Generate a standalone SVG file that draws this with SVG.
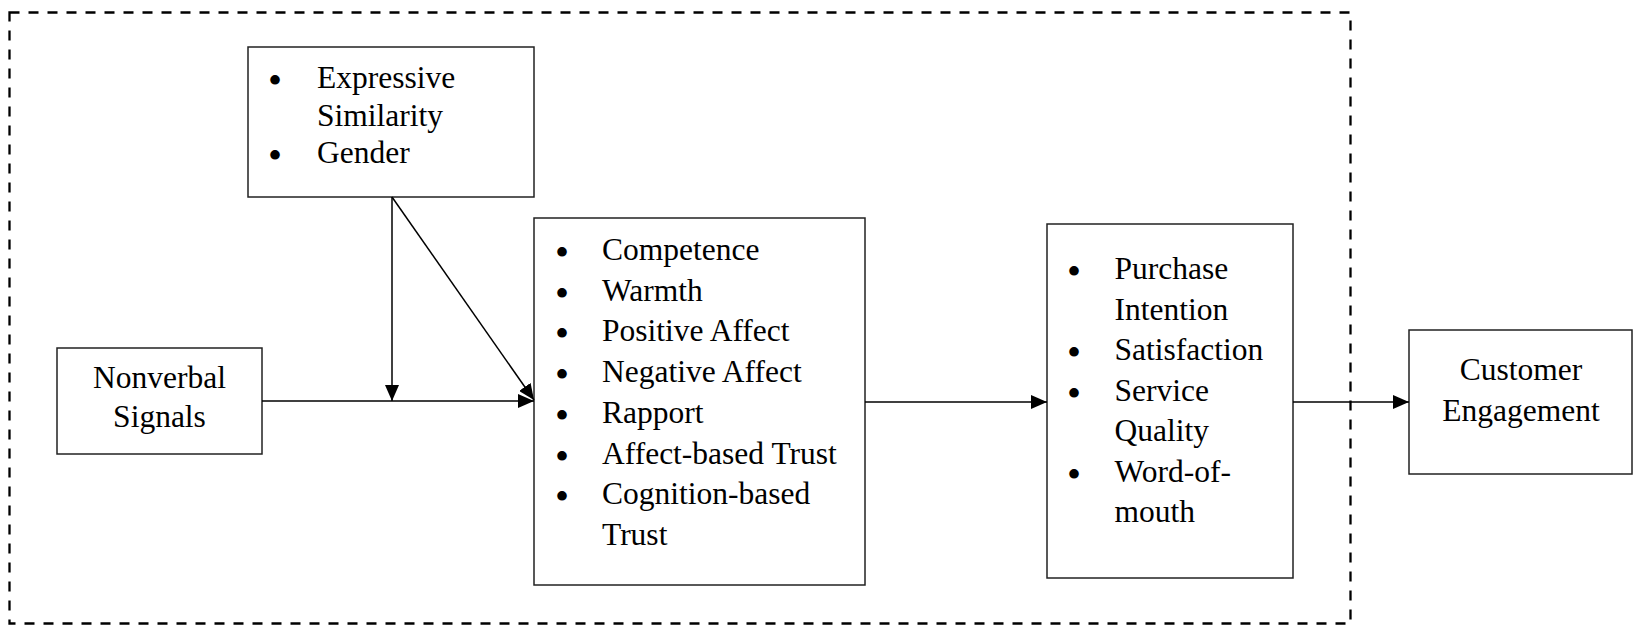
<svg xmlns="http://www.w3.org/2000/svg" width="1633" height="626" viewBox="0 0 1633 626">
<defs>
<marker id="arr" viewBox="0 0 16 14" refX="16" refY="7" markerWidth="16" markerHeight="14" markerUnits="userSpaceOnUse" orient="auto">
<path d="M0,0 L16,7 L0,14 Z" fill="#000"/>
</marker>
</defs>
<style>
.box{fill:#fff;stroke:#222;stroke-width:1.5}
.frame{fill:none;stroke:#000;stroke-width:2.3;stroke-dasharray:10 9}
.t{font-family:"Liberation Serif","Times New Roman",serif;font-size:31.5px;fill:#000}
.c{text-anchor:middle}
.b{font-family:"Liberation Serif","Times New Roman",serif;font-size:40px;fill:#000;text-anchor:middle}
.ln{fill:none;stroke:#000;stroke-width:1.5}
</style>
<rect width="1633" height="626" fill="#fff"/>
<rect class="frame" x="9.5" y="12.5" width="1341" height="611"/>
<g id="moderators">
<rect class="box" x="248" y="47" width="286" height="150"/>
<text class="b" x="275" y="94">•</text>
<text class="t" x="317" y="88">Expressive</text>
<text class="t" x="317" y="125.5">Similarity</text>
<text class="b" x="275" y="169">•</text>
<text class="t" x="317" y="163">Gender</text>
</g>
<g id="nonverbal">
<rect class="box" x="57" y="348" width="205" height="106"/>
<text class="t c" x="159.5" y="388">Nonverbal</text>
<text class="t c" x="159.5" y="427">Signals</text>
</g>
<g id="mediators">
<rect class="box" x="534" y="218" width="331" height="367"/>
<text class="b" x="562" y="266">•</text><text class="t" x="602" y="260">Competence</text>
<text class="b" x="562" y="306.7">•</text><text class="t" x="602" y="300.7">Warmth</text>
<text class="b" x="562" y="347.4">•</text><text class="t" x="602" y="341.4">Positive Affect</text>
<text class="b" x="562" y="388">•</text><text class="t" x="602" y="382">Negative Affect</text>
<text class="b" x="562" y="428.8">•</text><text class="t" x="602" y="422.8">Rapport</text>
<text class="b" x="562" y="469.5">•</text><text class="t" x="602" y="463.5">Affect-based Trust</text>
<text class="b" x="562" y="510">•</text><text class="t" x="602" y="504">Cognition-based</text>
<text class="t" x="602" y="545">Trust</text>
</g>
<g id="outcomes">
<rect class="box" x="1047" y="224" width="246" height="354"/>
<text class="b" x="1074" y="285">•</text><text class="t" x="1114.5" y="279">Purchase</text>
<text class="t" x="1114.5" y="319.5">Intention</text>
<text class="b" x="1074" y="366">•</text><text class="t" x="1114.5" y="360">Satisfaction</text>
<text class="b" x="1074" y="406.5">•</text><text class="t" x="1114.5" y="400.5">Service</text>
<text class="t" x="1114.5" y="441">Quality</text>
<text class="b" x="1074" y="487.5">•</text><text class="t" x="1114.5" y="481.5">Word-of-</text>
<text class="t" x="1114.5" y="522">mouth</text>
</g>
<g id="engagement">
<rect class="box" x="1409" y="330" width="223" height="144"/>
<text class="t c" x="1521" y="380">Customer</text>
<text class="t c" x="1521" y="420.5">Engagement</text>
</g>
<g id="connectors">
<line class="ln" x1="262" y1="401" x2="534" y2="401" marker-end="url(#arr)"/>
<line class="ln" x1="392" y1="197" x2="392" y2="401" marker-end="url(#arr)"/>
<line class="ln" x1="392" y1="197" x2="534" y2="400" marker-end="url(#arr)"/>
<line class="ln" x1="865" y1="402" x2="1047" y2="402" marker-end="url(#arr)"/>
<line class="ln" x1="1293" y1="402" x2="1409" y2="402" marker-end="url(#arr)"/>
</g>
</svg>
